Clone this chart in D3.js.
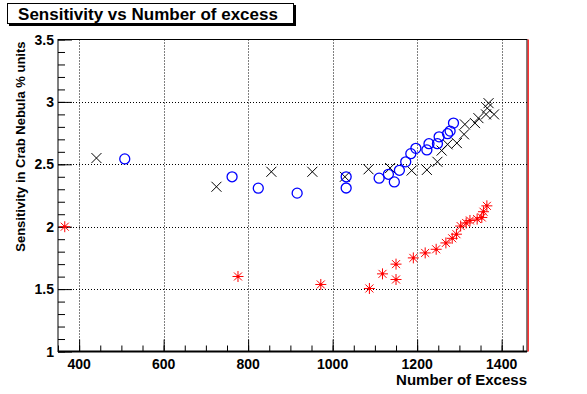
<!DOCTYPE html>
<html><head><meta charset="utf-8">
<script src="https://cdn.jsdelivr.net/npm/d3@7"></script>
<style>
body{margin:0;background:#fff;}
text{font-family:"Liberation Sans",Arial,Helvetica,sans-serif;font-weight:bold;}
</style></head>
<body><svg id="c" width="587" height="394"></svg>
<script>
const title = "Sensitivity vs Number of excess";
const xTitle = "Number of Excess";
const yTitle = "Sensitivity in Crab Nebula % units";
const xTicks = [400, 600, 800, 1000, 1200, 1400];
const yTicks = [1, 1.5, 2, 2.5, 3, 3.5];
const yTickLabels = ["1", "1.5", "2", "2.5", "3", "3.5"];

const crossX = [441, 725, 855, 952, 1029, 1085, 1136, 1187, 1223, 1248, 1258, 1272, 1294, 1311, 1313, 1337, 1345, 1363, 1366, 1369, 1382];
const crossY = [2.55, 2.32, 2.44, 2.44, 2.40, 2.46, 2.47, 2.45, 2.455, 2.52, 2.61, 2.66, 2.67, 2.74, 2.82, 2.83, 2.87, 2.90, 2.95, 2.99, 2.90];

const circX = [508, 762, 824, 916, 1032, 1032, 1110, 1132, 1146, 1158, 1173, 1185, 1197, 1223, 1228, 1248, 1252, 1272, 1278, 1286];
const circY = [2.543, 2.40, 2.309, 2.269, 2.40, 2.31, 2.389, 2.42, 2.359, 2.452, 2.52, 2.585, 2.628, 2.615, 2.665, 2.665, 2.72, 2.745, 2.766, 2.83];

const starX = [366, 776, 972, 1087, 1118, 1150, 1150, 1191, 1219, 1245, 1268, 1283, 1293, 1303, 1316, 1325, 1342, 1353, 1357, 1365];
const starY = [2.0, 1.601, 1.537, 1.505, 1.622, 1.70, 1.577, 1.75, 1.79, 1.819, 1.87, 1.907, 1.94, 2.005, 2.03, 2.05, 2.061, 2.074, 2.12, 2.167];

const svg = d3.select("#c");
const L = 58, R = 527, T = 39.5, B = 351.5;
const x = d3.scaleLinear().domain([350, 1460]).range([L, R]);
const y = d3.scaleLinear().domain([1, 3.5]).range([B, T]);

// grid
const g = svg.append("g");
g.selectAll("line.gx").data(xTicks).join("line")
  .attr("x1", d => Math.round(x(d)) + 0.5).attr("x2", d => Math.round(x(d)) + 0.5)
  .attr("y1", T).attr("y2", B).attr("stroke", "#000").attr("stroke-dasharray", "1,2");
g.selectAll("line.gy").data(yTicks.slice(1, -1)).join("line")
  .attr("y1", d => Math.round(y(d)) + 0.5).attr("y2", d => Math.round(y(d)) + 0.5)
  .attr("x1", L).attr("x2", R).attr("stroke", "#000").attr("stroke-dasharray", "1,2");

// axes with inward ticks
const xMinor = d3.range(350, 1460, 50);
const yMinor = d3.range(1, 3.5001, 0.1);
const xAxis = d3.axisTop(x).tickValues(xMinor).tickSize(6).tickFormat("");
const xAxisMaj = d3.axisTop(x).tickValues(xTicks).tickSize(12).tickFormat("");
const yAxis = d3.axisRight(y).tickValues(yMinor).tickSize(7).tickFormat("");
const yAxisMaj = d3.axisRight(y).tickValues(yTicks).tickSize(14).tickFormat("");
[xAxis, xAxisMaj].forEach(a => {
  const s = svg.append("g").attr("transform", `translate(0,${B})`).call(a);
  s.select(".domain").remove();
  s.selectAll("line").attr("stroke", "#000");
});
[yAxis, yAxisMaj].forEach(a => {
  const s = svg.append("g").attr("transform", `translate(${L},0)`).call(a);
  s.select(".domain").remove();
  s.selectAll("line").attr("stroke", "#000");
});

// frame
svg.append("rect").attr("x", L).attr("y", T).attr("width", R - L).attr("height", B - T)
  .attr("fill", "none").attr("stroke", "#000").attr("stroke-width", 1);
svg.append("line").attr("x1", L).attr("x2", R).attr("y1", B).attr("y2", B).attr("stroke", "#000").attr("stroke-width", 2);
svg.append("line").attr("x1", R + 1.2).attr("x2", R + 1.2).attr("y1", T).attr("y2", B).attr("stroke", "#ff0000").attr("stroke-width", 1.2);

// tick labels
svg.selectAll("text.xl").data(xTicks).join("text")
  .attr("x", d => x(d)).attr("y", 369).attr("text-anchor", "middle")
  .attr("font-size", 14).text(d => d);
svg.selectAll("text.yl").data(yTicks).join("text")
  .attr("x", 54).attr("y", d => y(d) + 5).attr("text-anchor", "end")
  .attr("font-size", 14).text((d, i) => yTickLabels[i]);

// axis titles
svg.append("text").attr("x", R).attr("y", 385).attr("text-anchor", "end")
  .attr("font-size", 15).text(xTitle);
svg.append("text").attr("transform", `translate(25,${T + 2}) rotate(-90)`)
  .attr("text-anchor", "end").attr("font-size", 13).text(yTitle);

// title box
svg.append("rect").attr("x", 9).attr("y", 5).attr("width", 287).attr("height", 21).attr("fill", "#000");
svg.append("rect").attr("x", 7.5).attr("y", 3.5).attr("width", 286).attr("height", 20)
  .attr("fill", "#fff").attr("stroke", "#000");
svg.append("text").attr("x", 148).attr("y", 19.5).attr("text-anchor", "middle")
  .attr("font-size", 17).text(title);

// markers
const pts = (xs, ys) => xs.map((v, i) => [v, ys[i]]);
const mk = svg.append("g");
mk.selectAll("path.cr").data(pts(crossX, crossY)).join("path")
  .attr("d", d => { const cx = x(d[0]), cy = y(d[1]), s = 5;
    return `M${cx - s},${cy - s}L${cx + s},${cy + s}M${cx - s},${cy + s}L${cx + s},${cy - s}`; })
  .attr("stroke", "#000").attr("stroke-width", 1).attr("fill", "none");
mk.selectAll("circle.ci").data(pts(circX, circY)).join("circle")
  .attr("cx", d => x(d[0])).attr("cy", d => y(d[1])).attr("r", 5)
  .attr("stroke", "#0000ff").attr("stroke-width", 1.3).attr("fill", "none");
mk.selectAll("path.st").data(pts(starX, starY)).join("path")
  .attr("d", d => { const cx = x(d[0]), cy = y(d[1]), s = 5.5, t = 4;
    return `M${cx - s},${cy}L${cx + s},${cy}M${cx},${cy - s}L${cx},${cy + s}` +
           `M${cx - t},${cy - t}L${cx + t},${cy + t}M${cx - t},${cy + t}L${cx + t},${cy - t}`; })
  .attr("stroke", "#ff0000").attr("stroke-width", 1).attr("fill", "none");
mk.selectAll("circle.sd").data(pts(starX, starY)).join("circle")
  .attr("cx", d => x(d[0])).attr("cy", d => y(d[1])).attr("r", 1.5).attr("fill", "#ff0000");
</script></body></html>
